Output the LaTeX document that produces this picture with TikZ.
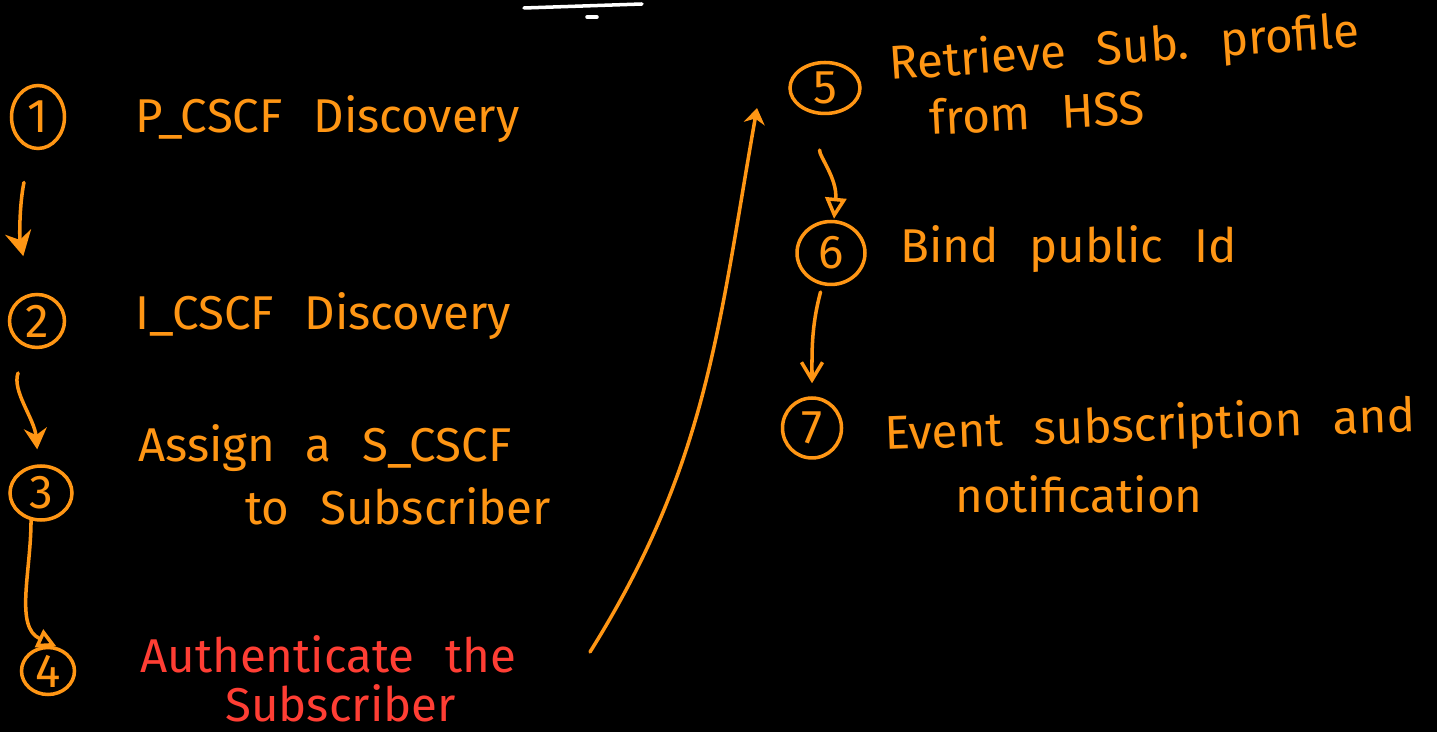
\documentclass[tikz,border=0pt]{standalone}
\usepackage{fontspec}
\setmainfont{Fira Sans}
\usetikzlibrary{arrows.meta,shapes.geometric,positioning}
\definecolor{penorange}{RGB}{255,150,20}
\definecolor{penred}{RGB}{255,62,52}
\newcommand{\wgap}{\hspace{0.65em}}
\tikzset{
    font={\fontsize{27pt}{31pt}\selectfont},
    stepnum/.style={
           ellipse,
           draw=penorange, line width=2pt,
           text=penorange,
           inner sep=0pt,
           },
    steptext/.style={
           anchor=base west,
           text=penorange,
           inner sep=0pt,
           },
    flow/.style={draw=penorange, line width=2pt, line cap=round},
}

\begin{document}
\begin{tikzpicture}[x=0.02cm,y=-0.02cm]

\fill[black] (0,0) rectangle (1437,732);
\useasboundingbox (0,0) rectangle (1437,732);

% stray pen strokes at the top
\draw[white, line width=2pt, line cap=round] (524,8) -- (642,4);
\draw[white, line width=2pt, line cap=round] (587,17) -- (597,17);

% left column
\node[stepnum, minimum width=1.06cm, minimum height=1.26cm] (ONE) at (38,117) {1};
\node[steptext] (PCSCF) at (135,133) {P\_CSCF\wgap Discovery};

\node[stepnum, minimum width=1.1cm, minimum height=1.06cm] (TWO) at (37,321) {2};
\node[steptext] (ICSCF) at (135,330) {I\_CSCF\wgap Discovery};

\node[stepnum, minimum width=1.24cm, minimum height=1.08cm] (THREE) at (41,493) {3};
\node[steptext] (ASSIGN) at (138,462) {Assign\wgap a\wgap S\_CSCF};
\node[steptext] (ASSIGNB) at (245,525) {to\wgap Subscriber};

\node[stepnum, minimum width=1.06cm, minimum height=0.94cm] (FOUR) at (48,671) {4};
\node[steptext, text=penred] (AUTH) at (140,673) {Authenticate\wgap the};
\node[steptext, text=penred] (AUTHB) at (225,722) {Subscriber};

% right column
\node[stepnum, minimum width=1.4cm, minimum height=1.02cm] (FIVE) at (825,88) {5};
\node[steptext, rotate=4] (RETRIEVE) at (890,80) {Retrieve\wgap Sub.\wgap profile};
\node[steptext, rotate=3] (RETRIEVEB) at (930,135) {from\wgap HSS};

\node[stepnum, minimum width=1.36cm, minimum height=1.26cm] (SIX) at (831,253) {6};
\node[steptext] (BIND) at (900,263) {Bind\wgap public\wgap Id};

\node[stepnum, minimum width=1.18cm, minimum height=1.2cm] (SEVEN) at (812,428) {7};
\node[steptext, rotate=2] (EVENT) at (885,450) {Event\wgap subscription\wgap and};
\node[steptext] (EVENTB) at (955,513) {notification};

\coordinate (LIFTOFF) at (590,652);
\coordinate (LANDING) at (757,108);

\path (ONE)   edge[flow, -{Stealth[length=14pt,width=15pt]}, bend right=12, shorten <=0.68cm, shorten >=0.76cm] (TWO)
(TWO)   edge[flow, -{Stealth[length=12pt,width=13pt]}, out=-110, in=95, shorten <=0.54cm, shorten >=0.3cm] (THREE)
(THREE.-110) edge[flow, -{Triangle[open,length=11pt,width=11pt]}, out=-90, in=155, shorten >=0.1cm] (FOUR.60)
(LIFTOFF) edge[flow, -{Stealth[length=9pt,width=12pt]}, out=58, in=-100] (LANDING)
(FIVE)  edge[flow, -{Triangle[open,length=12pt,width=12pt]}, out=-95, in=85, shorten <=0.7cm, shorten >=0.02cm] (SIX)
(SIX)   edge[flow, -{Straight Barb[length=10pt,width=12pt]}, out=-105, in=90, shorten <=0.14cm, shorten >=0.26cm] (SEVEN);

\end{tikzpicture}
\end{document}
